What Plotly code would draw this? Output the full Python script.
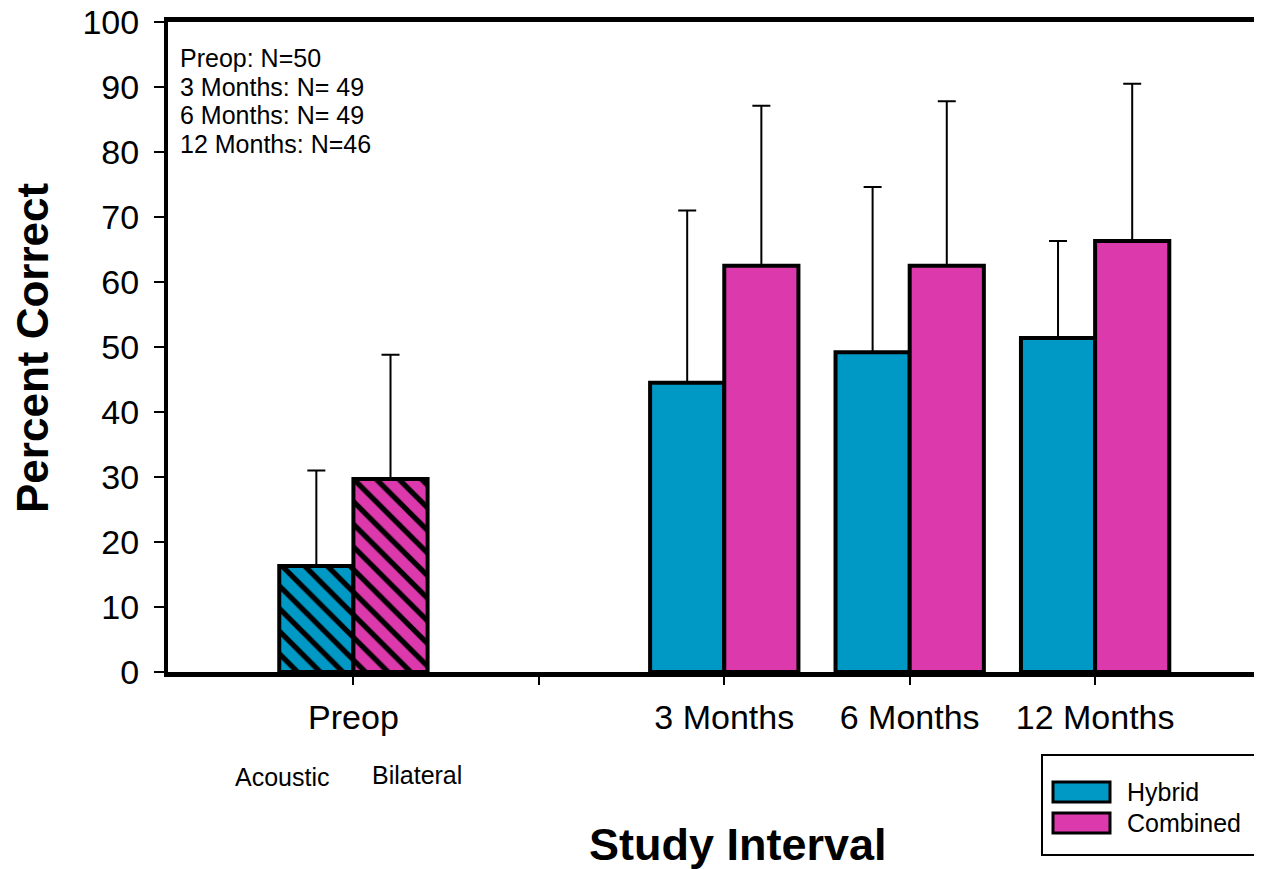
import plotly.graph_objects as go

# ---- data ----
categories = ["Preop", " ", "3 Months", "6 Months", "12 Months"]
series_names = ["Hybrid", "Combined"]
hybrid_mean = [16.3, None, 44.5, 49.2, 51.4]
hybrid_sd = [14.7, None, 26.5, 25.4, 14.9]
combined_mean = [29.7, None, 62.5, 62.5, 66.3]
combined_sd = [19.1, None, 24.6, 25.3, 24.2]
n_notes = ["Preop: N=50", "3 Months: N= 49", "6 Months: N= 49", "12 Months: N=46"]
preop_sub = ["Acoustic", "Bilateral"]
y_title = "Percent Correct"
x_title = "Study Interval"

colors = ["#0098C4", "#DC39AD"]
FONT = "Arial, Liberation Sans, sans-serif"

OFF = 8  # page body margin
W, H = 1262 - OFF, 869 - OFF
L = 168 - OFF
T = 22 - OFF
R = 0
B = H - (672 - OFF)
PW = W - L - R
PH = H - T - B


def px_x(x):
    return (x - OFF - L) / PW


def px_y(y):
    return (H - B - (y - OFF)) / PH


hatch = ["\\", "", "", "", ""]

fig = go.Figure()
for name, means, sds, col in [
    (series_names[0], hybrid_mean, hybrid_sd, colors[0]),
    (series_names[1], combined_mean, combined_sd, colors[1]),
]:
    fig.add_trace(go.Bar(
        name=name, x=categories, y=means,
        marker=dict(color=col, line=dict(color="black", width=4),
                    pattern=dict(shape=hatch, fgcolor="black", bgcolor=col,
                                 size=16, solidity=0.33, fillmode="replace")),
        error_y=dict(type="data", array=sds, symmetric=False,
                     arrayminus=[0 if v is not None else None for v in sds],
                     color="black", thickness=2, width=9),
        showlegend=False,
    ))

fig.update_layout(
    width=W, height=H,
    margin=dict(l=L, r=R, t=T, b=B, pad=0, autoexpand=False),
    paper_bgcolor="white", plot_bgcolor="white",
    barmode="group", bargap=0.2, bargroupgap=0,
    font=dict(family=FONT, color="black"),
    showlegend=False,
)
fig.update_xaxes(
    type="category", categoryorder="array", categoryarray=categories,
    range=[-1.0, 4.9], showgrid=False, zeroline=False,
    showline=True, linewidth=5, linecolor="black", mirror=True,
    ticks="outside", ticklen=8, tickwidth=2, tickcolor="black",
    tickfont=dict(size=34, family=FONT, color="black"),
    ticklabelstandoff=3, ticklabeloverflow="allow", automargin=False,
)
fig.update_yaxes(
    range=[0, 100], dtick=10, showgrid=False, zeroline=False,
    showline=True, linewidth=4, linecolor="black",
    ticks="outside", ticklen=10, tickwidth=2, tickcolor="black",
    tickfont=dict(size=34, family=FONT, color="black"),
    ticklabelstandoff=8, ticklabeloverflow="allow", automargin=False,
)

ann = []
# axis titles
ann.append(dict(text="<b>%s</b>" % y_title, x=px_x(33), y=px_y(348), xref="paper", yref="paper",
                textangle=-90, showarrow=False, font=dict(size=44, family=FONT),
                xanchor="center", yanchor="middle"))
ann.append(dict(text="<b>%s</b>" % x_title, x=px_x(738), y=px_y(844), xref="paper", yref="paper",
                showarrow=False, font=dict(size=45, family=FONT),
                xanchor="center", yanchor="middle"))
# N notes
for i, t in enumerate(n_notes):
    ann.append(dict(text=t, x=px_x(178), y=px_y(58 + 28.5 * i), xref="paper", yref="paper",
                    showarrow=False, font=dict(size=25, family=FONT),
                    xanchor="left", yanchor="middle"))
# preop sub-labels
for t, cx, cy in zip(preop_sub, [282, 417], [777, 775]):
    ann.append(dict(text=t, x=px_x(cx), y=px_y(cy), xref="paper", yref="paper",
                    showarrow=False, font=dict(size=25, family=FONT),
                    xanchor="center", yanchor="middle"))

shapes = []
# legend box
shapes.append(dict(type="rect", xref="paper", yref="paper",
                   x0=px_x(1042), x1=px_x(1275), y0=px_y(855), y1=px_y(755),
                   line=dict(color="black", width=2), fillcolor="white", layer="above"))
for i, (nm, col) in enumerate(zip(series_names, colors)):
    cy = 792 + 31 * i
    shapes.append(dict(type="rect", xref="paper", yref="paper",
                       x0=px_x(1053), x1=px_x(1110), y0=px_y(cy + 10), y1=px_y(cy - 10),
                       line=dict(color="black", width=3), fillcolor=col, layer="above"))
    ann.append(dict(text=nm, x=px_x(1125), y=px_y(cy), xref="paper", yref="paper",
                    showarrow=False, font=dict(size=25, family=FONT),
                    xanchor="left", yanchor="middle"))

fig.update_layout(annotations=ann, shapes=shapes)
fig.write_html("out.html")
